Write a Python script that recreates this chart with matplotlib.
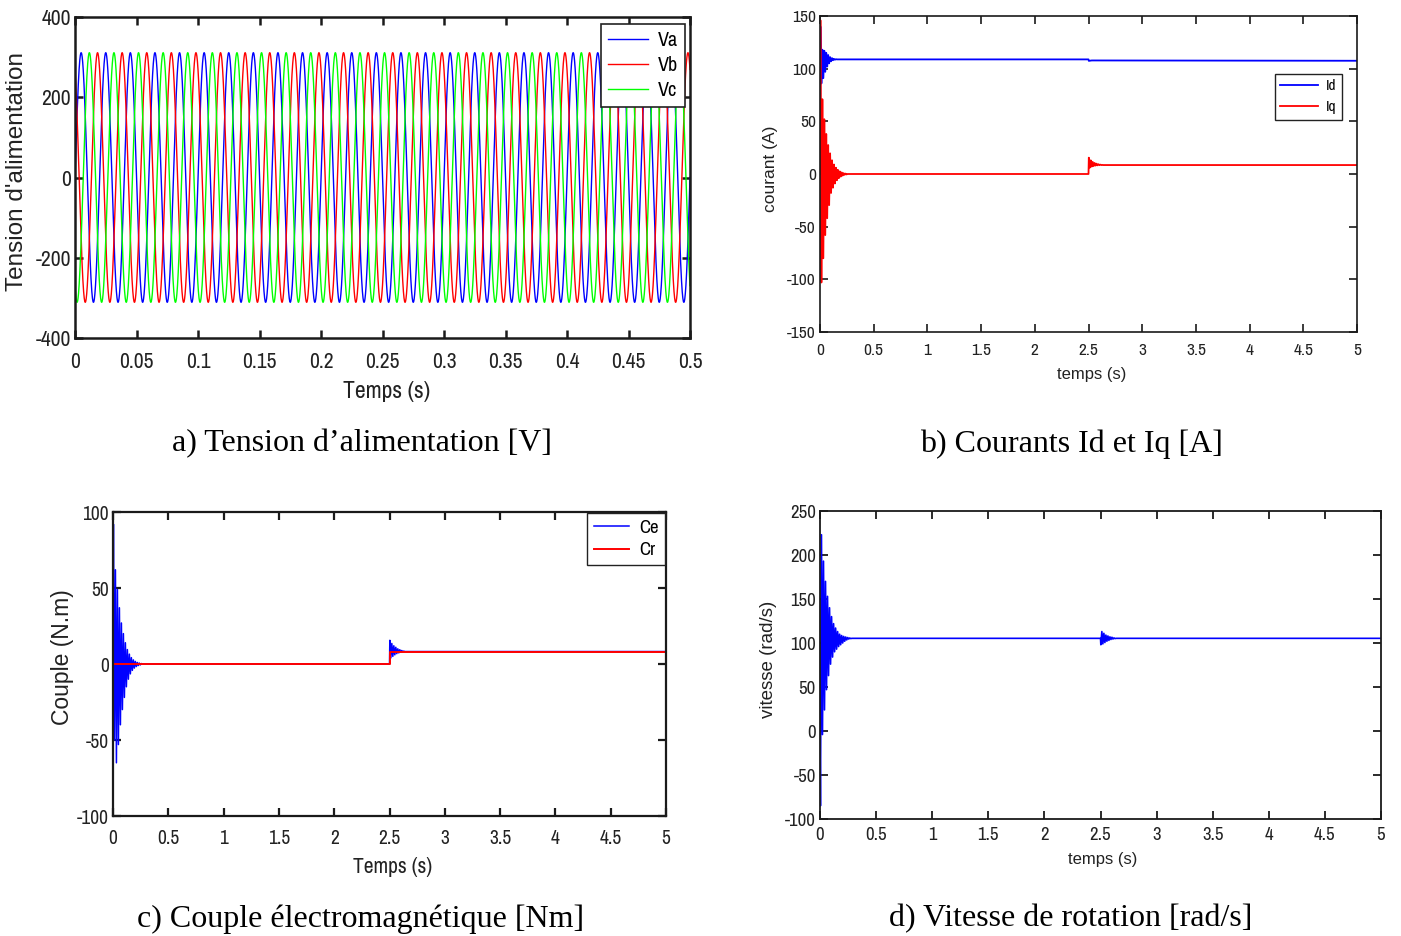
import numpy as np
import matplotlib
matplotlib.use("Agg")
import matplotlib.pyplot as plt
from matplotlib import font_manager

# ---------------- data ----------------
# (a) supply voltages
v_peak = 311.0          # V
v_freq = 50.0           # Hz
phase_a, phase_b, phase_c = 0.0, 120.0, -120.0   # degrees
t_volt_end = 0.5

# shared time base of the damped oscillation peaks (s)
t_start_osc = [0.000, 0.004, 0.013, 0.022, 0.031, 0.040, 0.049, 0.058, 0.067, 0.076,
               0.085, 0.094, 0.103, 0.112, 0.121, 0.130, 0.139, 0.148, 0.157, 0.166,
               0.175, 0.184, 0.193, 0.202, 0.211, 0.220, 0.229, 0.238, 0.247, 0.256,
               0.265, 0.274, 0.283, 0.292]
t_step_osc = [2.500, 2.503, 2.512, 2.521, 2.530, 2.539, 2.548, 2.557, 2.566, 2.575,
              2.584, 2.593, 2.602, 2.611, 2.620, 2.629, 2.638, 2.650]
t_end = 5.0

# (b) currents: successive peak values
id_start = [0, 140, 86, 118, 91, 117, 97, 115, 102, 113, 105, 111, 107, 110, 108,
            109.3, 108.5, 109.0, 108.8]
id_step_times = [2.5, 2.503, 2.53, 5.0]
id_step = [108.8, 107.4, 107.8, 107.5]
iq_start = [0, 146, -103, 71, -80, 52, -58, 38, -42, 27.5, -29.5, 19.6, -18, 13, -13,
            9, -9, 6, -6, 4, -4, 2.5, -2.5, 1.5, -1.5, 0.8, -0.8, 0.4, -0.4, 0]
iq_step = [0, 15.5, 6, 13, 7, 11.5, 7.5, 10.5, 8, 9.8, 8.2, 9.3, 8.4, 8.9, 8.5, 8.6, 8.5, 8.5]

# (c) torques
ce_start = [0, 92, -50, 62, -65, 49, -53, 37, -40, 27, -30, 20, -22, 14, -15, 9.5,
            -10, 6.5, -6.5, 4.2, -4.2, 2.7, -2.7, 1.7, -1.7, 1.0, -1.0, 0.6, -0.6, 0.3, 0]
ce_step = [0, 15.6, 4, 13.5, 5, 12, 6, 11, 6.8, 10, 7.3, 9.4, 7.7, 8.9, 8.0, 8.5, 8.2, 8.2]
cr_times = [0, 2.5, 2.5, 5.0]
cr_values = [0, 0, 8.2, 8.2]

# (d) speed
w_start = [0, -85, 223, -4, 193, 24, 170, 47, 153, 63, 140, 76, 130, 84, 122, 90, 117,
           93, 113, 96, 110, 98, 108.5, 100, 107.5, 102, 106.8, 103.5, 106.2, 104.5,
           105.7, 105.0, 105.3, 105.3]
w_step = [105.3, 98, 113, 99, 111, 100.5, 109, 102, 108, 103, 107, 104, 106.5, 104.5,
          105.8, 105.0, 105.3, 105.3]

# ticks
a_xticks = [0, 0.05, 0.1, 0.15, 0.2, 0.25, 0.3, 0.35, 0.4, 0.45, 0.5]
a_xlabels = ["0", "0.05", "0.1", "0.15", "0.2", "0.25", "0.3", "0.35", "0.4", "0.45", "0.5"]
a_yticks = [-400, -200, 0, 200, 400]
t5_ticks = [0, 0.5, 1, 1.5, 2, 2.5, 3, 3.5, 4, 4.5, 5]
t5_labels = ["0", "0.5", "1", "1.5", "2", "2.5", "3", "3.5", "4", "4.5", "5"]
b_yticks = [-150, -100, -50, 0, 50, 100, 150]
c_yticks = [-100, -50, 0, 50, 100]
d_yticks = [-100, -50, 0, 50, 100, 150, 200, 250]

captions = ["a) Tension d\u2019alimentation [V]", "b) Courants Id et Iq [A]",
            "c) Couple \u00e9lectromagn\u00e9tique [Nm]", "d) Vitesse de rotation [rad/s]"]

# ---------------- fonts ----------------
ttf = font_manager.fontManager.ttflist
narrow_names = sorted({f.name for f in ttf
                       if ("Narrow" in f.name or "Condensed" in f.name
                           or f.stretch in ("condensed", "semi-condensed"))
                       and "Mono" not in f.name and "Serif" not in f.name})
SANS = ["Liberation Sans", "DejaVu Sans"]
if narrow_names:
    NARROW = [narrow_names[0]] + SANS
    k = 1.0          # size factor for narrow texts
else:
    NARROW = SANS
    k = 0.88         # compensate the missing condensed face
SERIF = ["Liberation Serif", "DejaVu Serif"]

W, H = 1401, 936
fig = plt.figure(figsize=(W / 100, H / 100), dpi=100)
fig.patch.set_facecolor("white")

def add_axes(l, r, t, b):
    return fig.add_axes([l / W, 1 - b / H, (r - l) / W, (b - t) / H])

def style(ax, lw, tickfont, tsize, xpad, ypad):
    for s in ax.spines.values():
        s.set_linewidth(lw)
        s.set_color("#1a1a1a")
    ax.tick_params(direction="in", top=True, right=True, length=6, width=lw,
                   color="#1a1a1a", labelcolor="#222222")
    ax.tick_params(axis="x", pad=xpad)
    ax.tick_params(axis="y", pad=ypad)
    for lab in ax.get_xticklabels() + ax.get_yticklabels():
        lab.set_family(tickfont)
        lab.set_fontsize(tsize)

def labels(ax, xl, yl, xfont, xsize, yfont, ysize, xc, yc):
    ax.set_xlabel(xl, family=xfont, fontsize=xsize, color="#222222", va="center")
    ax.set_ylabel(yl, family=yfont, fontsize=ysize, color="#222222", va="center")
    ax.xaxis.set_label_coords(*xc)
    ax.yaxis.set_label_coords(*yc)

def legend(ax, anchor, size, hl, ls, bp, lw):
    lg = ax.legend(loc="upper right", bbox_to_anchor=anchor, borderaxespad=0,
                   prop=font_manager.FontProperties(family=NARROW, size=size),
                   fancybox=False, framealpha=1, edgecolor="#222222", handlelength=hl,
                   handletextpad=0.5, labelspacing=ls, borderpad=bp)
    lg.get_frame().set_linewidth(lw)
    return lg

# ---------- (a) ----------
ax = add_axes(75, 690, 17, 338)
t = np.linspace(0, t_volt_end, 6001)
w = 2 * np.pi * v_freq
ax.plot(t, v_peak * np.sin(w * t + np.deg2rad(phase_a)), color="#0000ff", lw=1.0, label="Va")
ax.plot(t, v_peak * np.sin(w * t + np.deg2rad(phase_b)), color="#ff0000", lw=1.0, label="Vb")
ax.plot(t, v_peak * np.sin(w * t + np.deg2rad(phase_c)), color="#00ff00", lw=1.0, label="Vc")
ax.set_xlim(0, 0.5)
ax.set_ylim(-400, 400)
ax.set_xticks(a_xticks, a_xlabels)
ax.set_yticks(a_yticks, [str(v) for v in a_yticks])
style(ax, 1.8, NARROW, 15.5 * k, 10, 3)
labels(ax, "Temps (s)", "Tension d'alimentation", NARROW, 17 * k, SANS, 17.5,
       (0.506, -0.168), (-0.095, 0.52))
legend(ax, (0.992, 0.978), 14.5 * k, 2.0, 0.3, 0.35, 1.2)

# ---------- (b) ----------
ax = add_axes(820, 1357, 16, 332)
ax.plot(t_start_osc[:len(id_start)] + id_step_times,
        id_start + id_step, color="#0000ff", lw=1.3, label="Id")
ax.plot(t_start_osc[:len(iq_start)] + t_step_osc + [t_end],
        iq_start + iq_step + [iq_step[-1]], color="#ff0000", lw=1.3, label="Iq")
ax.set_xlim(0, 5)
ax.set_ylim(-150, 150)
ax.set_xticks(t5_ticks, t5_labels)
ax.set_yticks(b_yticks, [str(v) for v in b_yticks])
style(ax, 1.2, NARROW, 12.5 * k, 8, 3)
labels(ax, "temps (s)", "courant (A)", SANS, 12, SANS, 12.5,
       (0.5065, -0.133), (-0.093, 0.516))
legend(ax, (0.972, 0.816), 11 * k, 2.5, 0.45, 0.35, 1.0)

# ---------- (c) ----------
ax = add_axes(113, 666, 512, 816)
ax.plot(t_start_osc[:len(ce_start)] + t_step_osc + [t_end],
        ce_start + ce_step + [ce_step[-1]], color="#0000ff", lw=1.1, label="Ce")
ax.plot(cr_times, cr_values, color="#ff0000", lw=1.4, label="Cr")
ax.set_xlim(0, 5)
ax.set_ylim(-100, 100)
ax.set_xticks(t5_ticks, t5_labels)
ax.set_yticks(c_yticks, [str(v) for v in c_yticks])
style(ax, 1.6, NARROW, 14 * k, 9, 3)
labels(ax, "Temps (s)", "Couple (N.m)", NARROW, 15.5 * k, SANS, 16.5,
       (0.506, -0.168), (-0.092, 0.523))
legend(ax, (0.998, 0.997), 13.5 * k, 1.9, 0.35, 0.35, 1.0)

# ---------- (d) ----------
ax = add_axes(820, 1381, 511, 819)
ax.plot(t_start_osc[:len(w_start)] + t_step_osc + [t_end],
        w_start + w_step + [w_step[-1]], color="#0000ff", lw=1.2)
ax.set_xlim(0, 5)
ax.set_ylim(-100, 250)
ax.set_xticks(t5_ticks, t5_labels)
ax.set_yticks(d_yticks, [str(v) for v in d_yticks])
style(ax, 1.3, NARROW, 13.5 * k, 6, 3)
labels(ax, "temps (s)", "vitesse (rad/s)", SANS, 12, SANS, 13.5,
       (0.504, -0.133), (-0.091, 0.519))

# ---------- captions ----------
cap_pos = [(362, 444), (1071, 444), (361, 919), (1071, 919)]
for txt, (x, y) in zip(captions, cap_pos):
    fig.text(x / W, 1 - y / H, txt, family=SERIF, fontsize=23, ha="center",
             va="center", color="black")

fig.savefig("out.png", dpi=100)
